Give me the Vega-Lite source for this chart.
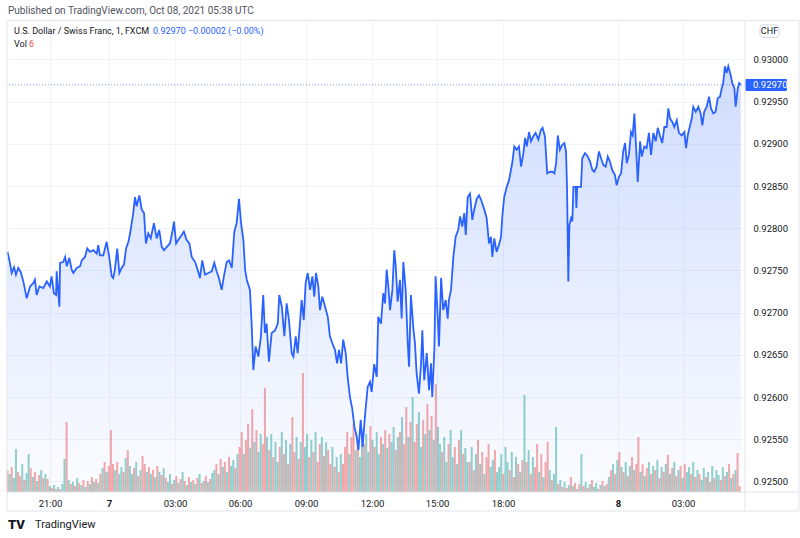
{
  "$schema": "https://vega.github.io/schema/vega-lite/v6.json",
  "width": 738,
  "height": 471,
  "autosize": {"type": "none"},
  "padding": {"left": 7, "top": 21, "right": 55, "bottom": 46},
  "background": "white",
  "config": {"view": {"stroke": null}, "font": "Roboto"},
  "datasets": {
    "price": [
      {"h": -5.0, "p": 0.92772}, {"h": -4.91, "p": 0.92762}, {"h": -4.8, "p": 0.92747}, {"h": -4.69, "p": 0.92754},
      {"h": -4.6, "p": 0.92745}, {"h": -4.49, "p": 0.92753}, {"h": -4.37, "p": 0.92748}, {"h": -4.25, "p": 0.92737},
      {"h": -4.09, "p": 0.92717}, {"h": -3.93, "p": 0.92731}, {"h": -3.78, "p": 0.92735}, {"h": -3.7, "p": 0.92739},
      {"h": -3.62, "p": 0.92721}, {"h": -3.49, "p": 0.92731}, {"h": -3.3, "p": 0.92729}, {"h": -3.14, "p": 0.92737},
      {"h": -2.99, "p": 0.92731}, {"h": -2.91, "p": 0.92743}, {"h": -2.8, "p": 0.92723}, {"h": -2.7, "p": 0.92721},
      {"h": -2.67, "p": 0.92749}, {"h": -2.54, "p": 0.92707}, {"h": -2.51, "p": 0.92759}, {"h": -2.36, "p": 0.9276},
      {"h": -2.27, "p": 0.92766}, {"h": -2.19, "p": 0.92755}, {"h": -2.07, "p": 0.92765}, {"h": -1.96, "p": 0.92751},
      {"h": -1.88, "p": 0.92747}, {"h": -1.72, "p": 0.92753}, {"h": -1.56, "p": 0.92755}, {"h": -1.48, "p": 0.92762},
      {"h": -1.33, "p": 0.92766}, {"h": -1.22, "p": 0.92776}, {"h": -1.09, "p": 0.92772}, {"h": -0.93, "p": 0.92774},
      {"h": -0.77, "p": 0.9277}, {"h": -0.7, "p": 0.9278}, {"h": -0.62, "p": 0.92768}, {"h": -0.46, "p": 0.92768},
      {"h": -0.3, "p": 0.92784}, {"h": -0.18, "p": 0.92766}, {"h": -0.06, "p": 0.92743}, {"h": 0.01, "p": 0.92741},
      {"h": 0.09, "p": 0.92751}, {"h": 0.2, "p": 0.92776}, {"h": 0.3, "p": 0.92747}, {"h": 0.41, "p": 0.92753},
      {"h": 0.52, "p": 0.92757}, {"h": 0.62, "p": 0.92776}, {"h": 0.73, "p": 0.92784}, {"h": 0.81, "p": 0.92794},
      {"h": 0.96, "p": 0.92818}, {"h": 1.04, "p": 0.92837}, {"h": 1.12, "p": 0.92826}, {"h": 1.25, "p": 0.92839},
      {"h": 1.36, "p": 0.92822}, {"h": 1.47, "p": 0.92818}, {"h": 1.56, "p": 0.92782}, {"h": 1.67, "p": 0.92794},
      {"h": 1.79, "p": 0.92788}, {"h": 1.94, "p": 0.92806}, {"h": 2.07, "p": 0.92788}, {"h": 2.19, "p": 0.92798},
      {"h": 2.31, "p": 0.92778}, {"h": 2.42, "p": 0.92774}, {"h": 2.55, "p": 0.92778}, {"h": 2.7, "p": 0.92782},
      {"h": 2.83, "p": 0.92798}, {"h": 2.89, "p": 0.92808}, {"h": 2.99, "p": 0.92782}, {"h": 3.09, "p": 0.92786},
      {"h": 3.26, "p": 0.92792}, {"h": 3.36, "p": 0.92796}, {"h": 3.49, "p": 0.92786}, {"h": 3.62, "p": 0.92782},
      {"h": 3.73, "p": 0.92766}, {"h": 3.89, "p": 0.9276}, {"h": 4.01, "p": 0.92751}, {"h": 4.12, "p": 0.92741},
      {"h": 4.23, "p": 0.92762}, {"h": 4.36, "p": 0.92745}, {"h": 4.52, "p": 0.92747}, {"h": 4.68, "p": 0.92749},
      {"h": 4.8, "p": 0.92759}, {"h": 4.91, "p": 0.92749}, {"h": 5.02, "p": 0.92741}, {"h": 5.15, "p": 0.92727},
      {"h": 5.27, "p": 0.92745}, {"h": 5.39, "p": 0.9276}, {"h": 5.5, "p": 0.92762}, {"h": 5.63, "p": 0.92753},
      {"h": 5.75, "p": 0.92796}, {"h": 5.86, "p": 0.92806}, {"h": 5.97, "p": 0.92835}, {"h": 6.07, "p": 0.92806},
      {"h": 6.18, "p": 0.92786}, {"h": 6.26, "p": 0.92751}, {"h": 6.34, "p": 0.92739}, {"h": 6.49, "p": 0.92727},
      {"h": 6.57, "p": 0.92687}, {"h": 6.65, "p": 0.92632}, {"h": 6.76, "p": 0.9266}, {"h": 6.89, "p": 0.92648},
      {"h": 7.01, "p": 0.92672}, {"h": 7.12, "p": 0.92721}, {"h": 7.2, "p": 0.92676}, {"h": 7.28, "p": 0.92687},
      {"h": 7.39, "p": 0.92642}, {"h": 7.52, "p": 0.92676}, {"h": 7.68, "p": 0.92679}, {"h": 7.81, "p": 0.92687},
      {"h": 7.88, "p": 0.92721}, {"h": 8.0, "p": 0.92707}, {"h": 8.12, "p": 0.92672}, {"h": 8.23, "p": 0.92711},
      {"h": 8.34, "p": 0.92691}, {"h": 8.47, "p": 0.92652}, {"h": 8.55, "p": 0.92648}, {"h": 8.66, "p": 0.92672},
      {"h": 8.75, "p": 0.92652}, {"h": 8.86, "p": 0.92687}, {"h": 8.94, "p": 0.92715}, {"h": 9.04, "p": 0.92691},
      {"h": 9.13, "p": 0.92735}, {"h": 9.23, "p": 0.92747}, {"h": 9.34, "p": 0.92727}, {"h": 9.45, "p": 0.92743},
      {"h": 9.54, "p": 0.92719}, {"h": 9.62, "p": 0.92747}, {"h": 9.73, "p": 0.92731}, {"h": 9.81, "p": 0.92703},
      {"h": 9.92, "p": 0.92719}, {"h": 10.05, "p": 0.92707}, {"h": 10.18, "p": 0.92695}, {"h": 10.28, "p": 0.92672},
      {"h": 10.39, "p": 0.92664}, {"h": 10.52, "p": 0.92656}, {"h": 10.62, "p": 0.9264}, {"h": 10.71, "p": 0.92656},
      {"h": 10.81, "p": 0.9264}, {"h": 10.91, "p": 0.92668}, {"h": 11.03, "p": 0.92652}, {"h": 11.12, "p": 0.92624},
      {"h": 11.23, "p": 0.926}, {"h": 11.34, "p": 0.92586}, {"h": 11.44, "p": 0.92565}, {"h": 11.55, "p": 0.92553},
      {"h": 11.63, "p": 0.92537}, {"h": 11.74, "p": 0.92573}, {"h": 11.83, "p": 0.92541}, {"h": 11.94, "p": 0.92577},
      {"h": 12.07, "p": 0.92612}, {"h": 12.18, "p": 0.92618}, {"h": 12.26, "p": 0.92606}, {"h": 12.38, "p": 0.92639},
      {"h": 12.5, "p": 0.92624}, {"h": 12.57, "p": 0.92695}, {"h": 12.7, "p": 0.92687}, {"h": 12.81, "p": 0.92723},
      {"h": 12.89, "p": 0.92711}, {"h": 12.97, "p": 0.92751}, {"h": 13.05, "p": 0.92731}, {"h": 13.13, "p": 0.92703},
      {"h": 13.24, "p": 0.92727}, {"h": 13.33, "p": 0.92774}, {"h": 13.4, "p": 0.92755}, {"h": 13.49, "p": 0.92713},
      {"h": 13.6, "p": 0.92739}, {"h": 13.68, "p": 0.92693}, {"h": 13.76, "p": 0.9276}, {"h": 13.87, "p": 0.92727},
      {"h": 13.97, "p": 0.92664}, {"h": 14.03, "p": 0.92636}, {"h": 14.12, "p": 0.92721}, {"h": 14.23, "p": 0.92683},
      {"h": 14.31, "p": 0.92664}, {"h": 14.39, "p": 0.92628}, {"h": 14.5, "p": 0.92604}, {"h": 14.6, "p": 0.9264},
      {"h": 14.66, "p": 0.92679}, {"h": 14.75, "p": 0.9262}, {"h": 14.87, "p": 0.92652}, {"h": 14.98, "p": 0.92608},
      {"h": 15.07, "p": 0.9264}, {"h": 15.13, "p": 0.926}, {"h": 15.23, "p": 0.92656}, {"h": 15.29, "p": 0.92743},
      {"h": 15.39, "p": 0.92695}, {"h": 15.45, "p": 0.9266}, {"h": 15.55, "p": 0.92741}, {"h": 15.65, "p": 0.92703},
      {"h": 15.77, "p": 0.92715}, {"h": 15.86, "p": 0.92693}, {"h": 15.92, "p": 0.92715}, {"h": 16.02, "p": 0.92727},
      {"h": 16.13, "p": 0.92766}, {"h": 16.24, "p": 0.9279}, {"h": 16.36, "p": 0.92798}, {"h": 16.45, "p": 0.92814},
      {"h": 16.55, "p": 0.92802}, {"h": 16.65, "p": 0.92818}, {"h": 16.72, "p": 0.92792}, {"h": 16.81, "p": 0.92837},
      {"h": 16.92, "p": 0.92841}, {"h": 17.03, "p": 0.9281}, {"h": 17.12, "p": 0.92822}, {"h": 17.24, "p": 0.92835},
      {"h": 17.35, "p": 0.92839}, {"h": 17.47, "p": 0.92832}, {"h": 17.6, "p": 0.92822}, {"h": 17.71, "p": 0.92812},
      {"h": 17.82, "p": 0.92782}, {"h": 17.91, "p": 0.9279}, {"h": 17.98, "p": 0.92766}, {"h": 18.07, "p": 0.92788},
      {"h": 18.18, "p": 0.92772}, {"h": 18.29, "p": 0.9278}, {"h": 18.39, "p": 0.9279}, {"h": 18.45, "p": 0.92814},
      {"h": 18.54, "p": 0.92837}, {"h": 18.66, "p": 0.92849}, {"h": 18.77, "p": 0.92857}, {"h": 18.86, "p": 0.92869},
      {"h": 18.92, "p": 0.92877}, {"h": 19.02, "p": 0.92897}, {"h": 19.13, "p": 0.92893}, {"h": 19.24, "p": 0.92897},
      {"h": 19.34, "p": 0.92873}, {"h": 19.45, "p": 0.92889}, {"h": 19.53, "p": 0.92907}, {"h": 19.61, "p": 0.92897},
      {"h": 19.72, "p": 0.92914}, {"h": 19.81, "p": 0.92903}, {"h": 19.92, "p": 0.92909}, {"h": 20.03, "p": 0.92913},
      {"h": 20.16, "p": 0.92905}, {"h": 20.27, "p": 0.92916}, {"h": 20.36, "p": 0.92919}, {"h": 20.47, "p": 0.92909},
      {"h": 20.58, "p": 0.92865}, {"h": 20.71, "p": 0.92867}, {"h": 20.82, "p": 0.92867}, {"h": 20.92, "p": 0.92865},
      {"h": 21.0, "p": 0.92877}, {"h": 21.08, "p": 0.9291}, {"h": 21.18, "p": 0.92893}, {"h": 21.29, "p": 0.92899},
      {"h": 21.39, "p": 0.92901}, {"h": 21.47, "p": 0.92891}, {"h": 21.52, "p": 0.92847}, {"h": 21.58, "p": 0.92737},
      {"h": 21.63, "p": 0.92804}, {"h": 21.71, "p": 0.92812}, {"h": 21.77, "p": 0.92808}, {"h": 21.82, "p": 0.92849},
      {"h": 21.93, "p": 0.92849}, {"h": 21.96, "p": 0.92824}, {"h": 22.0, "p": 0.92849}, {"h": 22.18, "p": 0.92849},
      {"h": 22.24, "p": 0.92883}, {"h": 22.37, "p": 0.92889}, {"h": 22.5, "p": 0.92885}, {"h": 22.61, "p": 0.92879},
      {"h": 22.72, "p": 0.92869}, {"h": 22.81, "p": 0.92867}, {"h": 22.92, "p": 0.92873}, {"h": 23.03, "p": 0.92891},
      {"h": 23.13, "p": 0.92883}, {"h": 23.24, "p": 0.92875}, {"h": 23.35, "p": 0.92873}, {"h": 23.45, "p": 0.92885},
      {"h": 23.55, "p": 0.92879}, {"h": 23.66, "p": 0.92869}, {"h": 23.79, "p": 0.92863}, {"h": 23.87, "p": 0.92851},
      {"h": 23.98, "p": 0.92861}, {"h": 24.08, "p": 0.92865}, {"h": 24.18, "p": 0.92891}, {"h": 24.27, "p": 0.92901},
      {"h": 24.35, "p": 0.92877}, {"h": 24.45, "p": 0.92887}, {"h": 24.55, "p": 0.92914}, {"h": 24.63, "p": 0.9291},
      {"h": 24.71, "p": 0.92936}, {"h": 24.77, "p": 0.92907}, {"h": 24.87, "p": 0.92855}, {"h": 24.98, "p": 0.92903},
      {"h": 25.06, "p": 0.92885}, {"h": 25.18, "p": 0.92897}, {"h": 25.29, "p": 0.92895}, {"h": 25.4, "p": 0.92913},
      {"h": 25.5, "p": 0.92887}, {"h": 25.61, "p": 0.92913}, {"h": 25.72, "p": 0.92903}, {"h": 25.82, "p": 0.92919},
      {"h": 25.92, "p": 0.9291}, {"h": 26.03, "p": 0.92901}, {"h": 26.13, "p": 0.9292}, {"h": 26.24, "p": 0.9292},
      {"h": 26.32, "p": 0.92942}, {"h": 26.4, "p": 0.9293}, {"h": 26.51, "p": 0.92926}, {"h": 26.6, "p": 0.9292},
      {"h": 26.72, "p": 0.92928}, {"h": 26.82, "p": 0.92913}, {"h": 26.95, "p": 0.9291}, {"h": 27.08, "p": 0.92914},
      {"h": 27.16, "p": 0.92895}, {"h": 27.24, "p": 0.9291}, {"h": 27.35, "p": 0.92922}, {"h": 27.43, "p": 0.9293},
      {"h": 27.5, "p": 0.92944}, {"h": 27.62, "p": 0.92938}, {"h": 27.74, "p": 0.92944}, {"h": 27.85, "p": 0.92936},
      {"h": 27.93, "p": 0.92922}, {"h": 28.02, "p": 0.92938}, {"h": 28.14, "p": 0.92944}, {"h": 28.25, "p": 0.92956},
      {"h": 28.34, "p": 0.92942}, {"h": 28.45, "p": 0.92936}, {"h": 28.56, "p": 0.92938}, {"h": 28.66, "p": 0.92954},
      {"h": 28.77, "p": 0.92956}, {"h": 28.85, "p": 0.92966}, {"h": 28.92, "p": 0.92972}, {"h": 29.0, "p": 0.92992},
      {"h": 29.08, "p": 0.92984}, {"h": 29.16, "p": 0.92992}, {"h": 29.27, "p": 0.92982}, {"h": 29.35, "p": 0.92972},
      {"h": 29.45, "p": 0.92966}, {"h": 29.51, "p": 0.92944}, {"h": 29.61, "p": 0.92966}, {"h": 29.68, "p": 0.92972},
      {"h": 29.75, "p": 0.9297}
    ],
    "vol": [
      {"h": -5.0, "v": 22, "c": "d"}, {"h": -4.9, "v": 18, "c": "u"}, {"h": -4.8, "v": 25, "c": "d"}, {"h": -4.7, "v": 14, "c": "u"},
      {"h": -4.6, "v": 43, "c": "u"}, {"h": -4.5, "v": 20, "c": "d"}, {"h": -4.4, "v": 16, "c": "d"}, {"h": -4.3, "v": 28, "c": "u"},
      {"h": -4.2, "v": 12, "c": "d"}, {"h": -4.1, "v": 19, "c": "u"}, {"h": -4.0, "v": 38, "c": "u"}, {"h": -3.9, "v": 24, "c": "d"},
      {"h": -3.8, "v": 15, "c": "u"}, {"h": -3.7, "v": 20, "c": "d"}, {"h": -3.6, "v": 11, "c": "u"}, {"h": -3.5, "v": 17, "c": "d"},
      {"h": -3.4, "v": 22, "c": "u"}, {"h": -3.3, "v": 14, "c": "d"}, {"h": -3.2, "v": 18, "c": "u"}, {"h": -3.1, "v": 13, "c": "d"},
      {"h": -3.0, "v": 6, "c": "u"}, {"h": -2.9, "v": 4, "c": "d"}, {"h": -2.8, "v": 7, "c": "u"}, {"h": -2.7, "v": 3, "c": "d"},
      {"h": -2.6, "v": 5, "c": "u"}, {"h": -2.5, "v": 3, "c": "d"}, {"h": -2.4, "v": 8, "c": "u"}, {"h": -2.3, "v": 33, "c": "u"},
      {"h": -2.2, "v": 70, "c": "d"}, {"h": -2.1, "v": 12, "c": "u"}, {"h": -2.0, "v": 8, "c": "d"}, {"h": -1.9, "v": 10, "c": "u"},
      {"h": -1.8, "v": 6, "c": "d"}, {"h": -1.7, "v": 14, "c": "u"}, {"h": -1.6, "v": 9, "c": "d"}, {"h": -1.5, "v": 7, "c": "u"},
      {"h": -1.4, "v": 12, "c": "d"}, {"h": -1.3, "v": 5, "c": "u"}, {"h": -1.2, "v": 11, "c": "d"}, {"h": -1.1, "v": 8, "c": "u"},
      {"h": -1.0, "v": 15, "c": "d"}, {"h": -0.9, "v": 10, "c": "u"}, {"h": -0.8, "v": 13, "c": "d"}, {"h": -0.7, "v": 9, "c": "u"},
      {"h": -0.6, "v": 18, "c": "d"}, {"h": -0.5, "v": 24, "c": "u"}, {"h": -0.4, "v": 30, "c": "d"}, {"h": -0.3, "v": 20, "c": "u"},
      {"h": -0.2, "v": 26, "c": "d"}, {"h": -0.1, "v": 62, "c": "d"}, {"h": 0.0, "v": 28, "c": "d"}, {"h": 0.1, "v": 22, "c": "u"},
      {"h": 0.2, "v": 30, "c": "d"}, {"h": 0.3, "v": 18, "c": "u"}, {"h": 0.4, "v": 25, "c": "u"}, {"h": 0.5, "v": 20, "c": "d"},
      {"h": 0.6, "v": 34, "c": "u"}, {"h": 0.7, "v": 42, "c": "d"}, {"h": 0.8, "v": 26, "c": "u"}, {"h": 0.9, "v": 18, "c": "u"},
      {"h": 1.0, "v": 24, "c": "d"}, {"h": 1.1, "v": 30, "c": "u"}, {"h": 1.2, "v": 16, "c": "d"}, {"h": 1.3, "v": 22, "c": "u"},
      {"h": 1.4, "v": 36, "c": "d"}, {"h": 1.5, "v": 28, "c": "d"}, {"h": 1.6, "v": 20, "c": "u"}, {"h": 1.7, "v": 25, "c": "d"},
      {"h": 1.8, "v": 18, "c": "u"}, {"h": 1.9, "v": 22, "c": "d"}, {"h": 2.0, "v": 15, "c": "u"}, {"h": 2.1, "v": 26, "c": "d"},
      {"h": 2.2, "v": 20, "c": "u"}, {"h": 2.3, "v": 17, "c": "d"}, {"h": 2.4, "v": 24, "c": "u"}, {"h": 2.5, "v": 14, "c": "d"},
      {"h": 2.6, "v": 10, "c": "u"}, {"h": 2.7, "v": 18, "c": "u"}, {"h": 2.8, "v": 8, "c": "d"}, {"h": 2.9, "v": 12, "c": "u"},
      {"h": 3.0, "v": 16, "c": "d"}, {"h": 3.1, "v": 9, "c": "u"}, {"h": 3.2, "v": 13, "c": "d"}, {"h": 3.3, "v": 20, "c": "u"},
      {"h": 3.4, "v": 11, "c": "d"}, {"h": 3.5, "v": 7, "c": "u"}, {"h": 3.6, "v": 15, "c": "d"}, {"h": 3.7, "v": 10, "c": "u"},
      {"h": 3.8, "v": 12, "c": "d"}, {"h": 3.9, "v": 8, "c": "u"}, {"h": 4.0, "v": 14, "c": "d"}, {"h": 4.1, "v": 18, "c": "u"},
      {"h": 4.2, "v": 9, "c": "d"}, {"h": 4.3, "v": 11, "c": "u"}, {"h": 4.4, "v": 16, "c": "d"}, {"h": 4.5, "v": 10, "c": "u"},
      {"h": 4.6, "v": 13, "c": "d"}, {"h": 4.7, "v": 19, "c": "u"}, {"h": 4.8, "v": 22, "c": "u"}, {"h": 4.9, "v": 28, "c": "d"},
      {"h": 5.0, "v": 18, "c": "u"}, {"h": 5.1, "v": 33, "c": "d"}, {"h": 5.2, "v": 25, "c": "u"}, {"h": 5.3, "v": 30, "c": "d"},
      {"h": 5.4, "v": 20, "c": "u"}, {"h": 5.5, "v": 35, "c": "d"}, {"h": 5.6, "v": 26, "c": "u"}, {"h": 5.7, "v": 32, "c": "u"},
      {"h": 5.8, "v": 24, "c": "d"}, {"h": 5.9, "v": 38, "c": "u"}, {"h": 6.0, "v": 45, "c": "d"}, {"h": 6.1, "v": 60, "c": "d"},
      {"h": 6.2, "v": 38, "c": "u"}, {"h": 6.3, "v": 52, "c": "d"}, {"h": 6.4, "v": 68, "c": "d"}, {"h": 6.5, "v": 44, "c": "u"},
      {"h": 6.6, "v": 83, "c": "d"}, {"h": 6.7, "v": 50, "c": "u"}, {"h": 6.8, "v": 62, "c": "d"}, {"h": 6.9, "v": 40, "c": "u"},
      {"h": 7.0, "v": 58, "c": "u"}, {"h": 7.1, "v": 48, "c": "d"}, {"h": 7.2, "v": 104, "c": "d"}, {"h": 7.3, "v": 55, "c": "u"},
      {"h": 7.4, "v": 42, "c": "d"}, {"h": 7.5, "v": 58, "c": "u"}, {"h": 7.6, "v": 35, "c": "d"}, {"h": 7.7, "v": 50, "c": "u"},
      {"h": 7.8, "v": 30, "c": "u"}, {"h": 7.9, "v": 45, "c": "d"}, {"h": 8.0, "v": 60, "c": "u"}, {"h": 8.1, "v": 38, "c": "d"},
      {"h": 8.2, "v": 52, "c": "u"}, {"h": 8.3, "v": 28, "c": "d"}, {"h": 8.4, "v": 48, "c": "u"}, {"h": 8.5, "v": 75, "c": "d"},
      {"h": 8.6, "v": 40, "c": "d"}, {"h": 8.7, "v": 55, "c": "u"}, {"h": 8.8, "v": 33, "c": "d"}, {"h": 8.9, "v": 50, "c": "u"},
      {"h": 9.0, "v": 119, "c": "d"}, {"h": 9.1, "v": 45, "c": "u"}, {"h": 9.2, "v": 58, "c": "u"}, {"h": 9.3, "v": 35, "c": "d"},
      {"h": 9.4, "v": 52, "c": "u"}, {"h": 9.5, "v": 40, "c": "d"}, {"h": 9.6, "v": 60, "c": "u"}, {"h": 9.7, "v": 30, "c": "d"},
      {"h": 9.8, "v": 48, "c": "d"}, {"h": 9.9, "v": 55, "c": "u"}, {"h": 10.0, "v": 36, "c": "d"}, {"h": 10.1, "v": 50, "c": "u"},
      {"h": 10.2, "v": 42, "c": "d"}, {"h": 10.3, "v": 28, "c": "d"}, {"h": 10.4, "v": 45, "c": "u"}, {"h": 10.5, "v": 25, "c": "d"},
      {"h": 10.6, "v": 35, "c": "u"}, {"h": 10.7, "v": 20, "c": "d"}, {"h": 10.8, "v": 38, "c": "u"}, {"h": 10.9, "v": 28, "c": "d"},
      {"h": 11.0, "v": 45, "c": "d"}, {"h": 11.1, "v": 60, "c": "d"}, {"h": 11.2, "v": 38, "c": "u"}, {"h": 11.3, "v": 55, "c": "d"},
      {"h": 11.4, "v": 68, "c": "d"}, {"h": 11.5, "v": 42, "c": "u"}, {"h": 11.6, "v": 50, "c": "d"}, {"h": 11.7, "v": 35, "c": "u"},
      {"h": 11.8, "v": 62, "c": "u"}, {"h": 11.9, "v": 48, "c": "d"}, {"h": 12.0, "v": 58, "c": "u"}, {"h": 12.1, "v": 40, "c": "u"},
      {"h": 12.2, "v": 66, "c": "d"}, {"h": 12.3, "v": 52, "c": "u"}, {"h": 12.4, "v": 45, "c": "d"}, {"h": 12.5, "v": 60, "c": "u"},
      {"h": 12.6, "v": 38, "c": "u"}, {"h": 12.7, "v": 55, "c": "d"}, {"h": 12.8, "v": 48, "c": "u"}, {"h": 12.9, "v": 62, "c": "d"},
      {"h": 13.0, "v": 44, "c": "u"}, {"h": 13.1, "v": 58, "c": "d"}, {"h": 13.2, "v": 50, "c": "u"}, {"h": 13.3, "v": 65, "c": "u"},
      {"h": 13.4, "v": 42, "c": "d"}, {"h": 13.5, "v": 55, "c": "u"}, {"h": 13.6, "v": 60, "c": "d"}, {"h": 13.7, "v": 75, "c": "u"},
      {"h": 13.8, "v": 48, "c": "d"}, {"h": 13.9, "v": 85, "c": "d"}, {"h": 14.0, "v": 55, "c": "u"}, {"h": 14.1, "v": 70, "c": "d"},
      {"h": 14.2, "v": 95, "c": "u"}, {"h": 14.3, "v": 50, "c": "d"}, {"h": 14.4, "v": 68, "c": "d"}, {"h": 14.5, "v": 80, "c": "u"},
      {"h": 14.6, "v": 45, "c": "u"}, {"h": 14.7, "v": 72, "c": "d"}, {"h": 14.8, "v": 58, "c": "u"}, {"h": 14.9, "v": 88, "c": "d"},
      {"h": 15.0, "v": 62, "c": "u"}, {"h": 15.1, "v": 76, "c": "d"}, {"h": 15.2, "v": 52, "c": "u"}, {"h": 15.3, "v": 108, "c": "d"},
      {"h": 15.4, "v": 65, "c": "u"}, {"h": 15.5, "v": 48, "c": "u"}, {"h": 15.6, "v": 40, "c": "d"}, {"h": 15.7, "v": 55, "c": "u"},
      {"h": 15.8, "v": 30, "c": "u"}, {"h": 15.9, "v": 48, "c": "d"}, {"h": 16.0, "v": 62, "c": "u"}, {"h": 16.1, "v": 35, "c": "u"},
      {"h": 16.2, "v": 45, "c": "d"}, {"h": 16.3, "v": 28, "c": "u"}, {"h": 16.4, "v": 52, "c": "d"}, {"h": 16.5, "v": 62, "c": "u"},
      {"h": 16.6, "v": 38, "c": "d"}, {"h": 16.7, "v": 44, "c": "u"}, {"h": 16.8, "v": 30, "c": "u"}, {"h": 16.9, "v": 30, "c": "d"},
      {"h": 17.0, "v": 45, "c": "u"}, {"h": 17.1, "v": 22, "c": "d"}, {"h": 17.2, "v": 38, "c": "u"}, {"h": 17.3, "v": 52, "c": "d"},
      {"h": 17.4, "v": 28, "c": "u"}, {"h": 17.5, "v": 40, "c": "d"}, {"h": 17.6, "v": 18, "c": "u"}, {"h": 17.7, "v": 35, "c": "d"},
      {"h": 17.8, "v": 48, "c": "d"}, {"h": 17.9, "v": 25, "c": "u"}, {"h": 18.0, "v": 32, "c": "u"}, {"h": 18.1, "v": 42, "c": "d"},
      {"h": 18.2, "v": 20, "c": "u"}, {"h": 18.3, "v": 25, "c": "u"}, {"h": 18.4, "v": 38, "c": "u"}, {"h": 18.5, "v": 18, "c": "d"},
      {"h": 18.6, "v": 45, "c": "u"}, {"h": 18.7, "v": 30, "c": "u"}, {"h": 18.8, "v": 22, "c": "d"}, {"h": 18.9, "v": 40, "c": "u"},
      {"h": 19.0, "v": 15, "c": "d"}, {"h": 19.1, "v": 35, "c": "u"}, {"h": 19.2, "v": 28, "c": "d"}, {"h": 19.3, "v": 20, "c": "u"},
      {"h": 19.4, "v": 32, "c": "d"}, {"h": 19.5, "v": 97, "c": "u"}, {"h": 19.6, "v": 30, "c": "d"}, {"h": 19.7, "v": 42, "c": "u"},
      {"h": 19.8, "v": 18, "c": "d"}, {"h": 19.9, "v": 35, "c": "u"}, {"h": 20.0, "v": 25, "c": "d"}, {"h": 20.1, "v": 48, "c": "d"},
      {"h": 20.2, "v": 20, "c": "u"}, {"h": 20.3, "v": 38, "c": "d"}, {"h": 20.4, "v": 15, "c": "u"}, {"h": 20.5, "v": 30, "c": "d"},
      {"h": 20.6, "v": 50, "c": "d"}, {"h": 20.7, "v": 22, "c": "u"}, {"h": 20.8, "v": 12, "c": "d"}, {"h": 20.9, "v": 18, "c": "u"},
      {"h": 21.0, "v": 65, "c": "u"}, {"h": 21.1, "v": 8, "c": "d"}, {"h": 21.2, "v": 12, "c": "u"}, {"h": 21.3, "v": 5, "c": "d"},
      {"h": 21.4, "v": 10, "c": "u"}, {"h": 21.5, "v": 4, "c": "d"}, {"h": 21.6, "v": 7, "c": "u"}, {"h": 21.7, "v": 15, "c": "d"},
      {"h": 21.8, "v": 6, "c": "u"}, {"h": 21.9, "v": 9, "c": "d"}, {"h": 22.0, "v": 3, "c": "u"}, {"h": 22.1, "v": 8, "c": "d"},
      {"h": 22.2, "v": 38, "c": "u"}, {"h": 22.3, "v": 6, "c": "d"}, {"h": 22.4, "v": 10, "c": "u"}, {"h": 22.5, "v": 4, "c": "d"},
      {"h": 22.6, "v": 8, "c": "u"}, {"h": 22.7, "v": 12, "c": "d"}, {"h": 22.8, "v": 5, "c": "u"}, {"h": 22.9, "v": 9, "c": "u"},
      {"h": 23.0, "v": 3, "c": "d"}, {"h": 23.1, "v": 7, "c": "u"}, {"h": 23.2, "v": 11, "c": "d"}, {"h": 23.3, "v": 6, "c": "u"},
      {"h": 23.4, "v": 8, "c": "d"}, {"h": 23.5, "v": 15, "c": "u"}, {"h": 23.6, "v": 22, "c": "d"}, {"h": 23.7, "v": 28, "c": "u"},
      {"h": 23.8, "v": 18, "c": "d"}, {"h": 23.9, "v": 32, "c": "u"}, {"h": 24.0, "v": 40, "c": "d"}, {"h": 24.1, "v": 25, "c": "u"},
      {"h": 24.2, "v": 20, "c": "d"}, {"h": 24.3, "v": 30, "c": "u"}, {"h": 24.4, "v": 16, "c": "d"}, {"h": 24.5, "v": 26, "c": "u"},
      {"h": 24.6, "v": 35, "c": "d"}, {"h": 24.7, "v": 22, "c": "u"}, {"h": 24.8, "v": 28, "c": "d"}, {"h": 24.9, "v": 55, "c": "d"},
      {"h": 25.0, "v": 20, "c": "u"}, {"h": 25.1, "v": 28, "c": "d"}, {"h": 25.2, "v": 16, "c": "u"}, {"h": 25.3, "v": 24, "c": "d"},
      {"h": 25.4, "v": 30, "c": "u"}, {"h": 25.5, "v": 18, "c": "d"}, {"h": 25.6, "v": 26, "c": "u"}, {"h": 25.7, "v": 22, "c": "d"},
      {"h": 25.8, "v": 32, "c": "u"}, {"h": 25.9, "v": 14, "c": "d"}, {"h": 26.0, "v": 25, "c": "u"}, {"h": 26.1, "v": 20, "c": "d"},
      {"h": 26.2, "v": 28, "c": "u"}, {"h": 26.3, "v": 37, "c": "d"}, {"h": 26.4, "v": 18, "c": "u"}, {"h": 26.5, "v": 24, "c": "d"},
      {"h": 26.6, "v": 30, "c": "u"}, {"h": 26.7, "v": 16, "c": "d"}, {"h": 26.8, "v": 22, "c": "u"}, {"h": 26.9, "v": 26, "c": "d"},
      {"h": 27.0, "v": 14, "c": "u"}, {"h": 27.1, "v": 28, "c": "d"}, {"h": 27.2, "v": 20, "c": "u"}, {"h": 27.3, "v": 25, "c": "u"},
      {"h": 27.4, "v": 18, "c": "d"}, {"h": 27.5, "v": 30, "c": "u"}, {"h": 27.6, "v": 15, "c": "d"}, {"h": 27.7, "v": 22, "c": "u"},
      {"h": 27.8, "v": 18, "c": "d"}, {"h": 27.9, "v": 12, "c": "u"}, {"h": 28.0, "v": 24, "c": "u"}, {"h": 28.1, "v": 15, "c": "d"},
      {"h": 28.2, "v": 20, "c": "u"}, {"h": 28.3, "v": 10, "c": "d"}, {"h": 28.4, "v": 26, "c": "u"}, {"h": 28.5, "v": 14, "c": "d"},
      {"h": 28.6, "v": 22, "c": "u"}, {"h": 28.7, "v": 17, "c": "u"}, {"h": 28.8, "v": 12, "c": "d"}, {"h": 28.9, "v": 25, "c": "u"},
      {"h": 29.0, "v": 16, "c": "d"}, {"h": 29.1, "v": 20, "c": "u"}, {"h": 29.2, "v": 28, "c": "d"}, {"h": 29.3, "v": 14, "c": "u"},
      {"h": 29.4, "v": 18, "c": "d"}, {"h": 29.5, "v": 22, "c": "u"}, {"h": 29.6, "v": 39, "c": "d"}, {"h": 29.7, "v": 6, "c": "d"}
    ]
  },
  "layer": [
    {
      "data": {"name": "vol"},
      "mark": {"type": "bar", "width": 2, "opacity": 0.5},
      "encoding": {
        "x": {
          "field": "h",
          "type": "quantitative",
          "scale": {"domain": [-5.024, 29.953], "nice": false, "zero": false, "padding": 0},
          "axis": {
            "values": [-2.986, -0.19, 2.938, 6.019, 9.147, 12.275, 15.355, 18.483, 23.934, 27.014],
            "labelExpr": "datum.value < -1 ? '21:00' : datum.value < 1 ? '7' : datum.value < 4 ? '03:00' : datum.value < 7 ? '06:00' : datum.value < 10 ? '09:00' : datum.value < 13 ? '12:00' : datum.value < 16 ? '15:00' : datum.value < 20 ? '18:00' : datum.value < 25 ? '8' : '03:00'",
            "title": null,
            "grid": true,
            "gridColor": "#f0f3fa",
            "domain": false,
            "ticks": false,
            "tickSize": 0,
            "labelPadding": 6,
            "labelFontSize": 9.5,
            "labelColor": "#131722",
            "labelFlush": false,
            "labelFontWeight": {"condition": {"test": "(datum.value > -1 && datum.value < 1) || (datum.value > 20 && datum.value < 25)", "value": "bold"}, "value": "normal"}
          }
        },
        "y": {"field": "v", "type": "quantitative", "scale": {"domain": [0, 471]}, "axis": null},
        "color": {
          "field": "c",
          "type": "nominal",
          "scale": {"domain": ["u", "d"], "range": ["#26a69a", "#ef5350"]},
          "legend": null
        }
      }
    },
    {
      "layer": [
        {
          "data": {"name": "price"},
          "mark": {
            "type": "area",
            "color": {
              "gradient": "linear",
              "x1": 0, "y1": 0, "x2": 0, "y2": 1,
              "stops": [
                {"offset": 0, "color": "rgba(41,98,255,0.22)"},
                {"offset": 1, "color": "rgba(41,98,255,0.02)"}
              ]
            }
          },
          "encoding": {
            "x": {"field": "h", "type": "quantitative", "scale": {"domain": [-5.024, 29.953], "nice": false, "zero": false, "padding": 0}},
            "y": {
              "field": "p",
              "type": "quantitative",
              "scale": {"domain": [0.924875, 0.930456], "nice": false, "zero": false},
              "axis": {
                "orient": "right",
                "values": [0.925, 0.9255, 0.926, 0.9265, 0.927, 0.9275, 0.928, 0.9285, 0.929, 0.9295, 0.93],
                "format": ".5f",
                "title": null,
                "grid": true,
                "gridColor": "#f0f3fa",
                "domain": false,
                "ticks": false,
                "tickSize": 0,
                "labelPadding": 8,
                "labelFontSize": 9.5,
                "labelColor": "#131722"
              }
            },
            "y2": {"datum": 0.924875}
          }
        },
        {
          "data": {"name": "price"},
          "mark": {"type": "line", "color": "#2962ff", "strokeWidth": 1.8},
          "encoding": {
            "x": {"field": "h", "type": "quantitative"},
            "y": {"field": "p", "type": "quantitative"}
          }
        },
        {
          "data": {"values": [{}]},
          "mark": {"type": "rule", "color": "#2962ff", "strokeDash": [1, 2], "opacity": 0.6, "strokeWidth": 1},
          "encoding": {"y": {"datum": 0.9297, "type": "quantitative"}}
        },
        {
          "data": {"values": [{}]},
          "mark": {"type": "rect", "fill": null, "fillOpacity": 0, "stroke": "#e0e3eb", "strokeWidth": 1},
          "encoding": {
            "x": {"datum": -5.024, "type": "quantitative"},
            "x2": {"datum": 32.51},
            "y": {"datum": 0.930462, "type": "quantitative"},
            "y2": {"datum": 0.92465}
          }
        },
        {
          "data": {"values": [{}]},
          "mark": {"type": "rule", "color": "#e0e3eb", "strokeWidth": 1},
          "encoding": {
            "x": {"datum": -5.024, "type": "quantitative"},
            "x2": {"datum": 32.51},
            "y": {"datum": 0.924875, "type": "quantitative"}
          }
        },
        {
          "data": {"values": [{}]},
          "mark": {"type": "rule", "color": "#e0e3eb", "strokeWidth": 1},
          "encoding": {
            "x": {"datum": 29.953, "type": "quantitative"},
            "y": {"datum": 0.930462, "type": "quantitative"},
            "y2": {"datum": 0.92465}
          }
        },
        {
          "data": {"values": [{}]},
          "mark": {"type": "rect", "fill": "#2962ff", "cornerRadius": 1},
          "encoding": {
            "x": {"datum": 29.98, "type": "quantitative"},
            "x2": {"datum": 31.94},
            "y": {"datum": 0.929769, "type": "quantitative"},
            "y2": {"datum": 0.929627}
          }
        },
        {
          "data": {"values": [{}]},
          "mark": {"type": "text", "text": "0.92970", "color": "white", "fontSize": 9.5, "align": "left", "baseline": "middle"},
          "encoding": {
            "x": {"datum": 30.332, "type": "quantitative"},
            "y": {"datum": 0.9297, "type": "quantitative"}
          }
        },
        {
          "data": {"values": [{}]},
          "mark": {"type": "rect", "fill": "white", "stroke": "#d1d4dc", "strokeWidth": 1, "cornerRadius": 3},
          "encoding": {
            "x": {"datum": 30.664, "type": "quantitative"},
            "x2": {"datum": 31.564},
            "y": {"datum": 0.930409, "type": "quantitative"},
            "y2": {"datum": 0.930263}
          }
        },
        {
          "data": {"values": [{}]},
          "mark": {"type": "text", "text": "CHF", "color": "#131722", "fontSize": 9, "align": "center", "baseline": "middle"},
          "encoding": {
            "x": {"datum": 31.114, "type": "quantitative"},
            "y": {"datum": 0.930338, "type": "quantitative"}
          }
        },
        {
          "data": {"values": [{}]},
          "mark": {"type": "text", "text": "Published on TradingView.com, Oct 08, 2021 05:38 UTC", "color": "#50535e", "fontSize": 10, "align": "left", "baseline": "middle"},
          "encoding": {
            "x": {"datum": -4.976, "type": "quantitative"},
            "y": {"datum": 0.930575, "type": "quantitative"}
          }
        },
        {
          "data": {"values": [{}]},
          "mark": {"type": "text", "text": "U.S. Dollar / Swiss Franc, 1, FXCM", "color": "#131722", "fontSize": 9, "align": "left", "baseline": "middle"},
          "encoding": {
            "x": {"datum": -4.692, "type": "quantitative"},
            "y": {"datum": 0.930338, "type": "quantitative"}
          }
        },
        {
          "data": {"values": [{}]},
          "mark": {"type": "text", "text": "0.92970  −0.00002 (−0.00%)", "color": "#2962ff", "fontSize": 9, "align": "left", "baseline": "middle"},
          "encoding": {
            "x": {"datum": 1.896, "type": "quantitative"},
            "y": {"datum": 0.930338, "type": "quantitative"}
          }
        },
        {
          "data": {"values": [{}]},
          "mark": {"type": "text", "text": "Vol", "color": "#131722", "fontSize": 9, "align": "left", "baseline": "middle"},
          "encoding": {
            "x": {"datum": -4.692, "type": "quantitative"},
            "y": {"datum": 0.930184, "type": "quantitative"}
          }
        },
        {
          "data": {"values": [{}]},
          "mark": {"type": "text", "text": "6", "color": "#ef5350", "fontSize": 9, "align": "left", "baseline": "middle"},
          "encoding": {
            "x": {"datum": -3.981, "type": "quantitative"},
            "y": {"datum": 0.930184, "type": "quantitative"}
          }
        },
        {
          "data": {"values": [{}]},
          "mark": {"type": "text", "text": "TV", "color": "#131722", "fontSize": 13, "fontWeight": 900, "align": "left", "baseline": "middle"},
          "encoding": {
            "x": {"datum": -4.976, "type": "quantitative"},
            "y": {"datum": 0.924484, "type": "quantitative"}
          }
        },
        {
          "data": {"values": [{}]},
          "mark": {"type": "text", "text": "TradingView", "color": "#131722", "fontSize": 11, "align": "left", "baseline": "middle"},
          "encoding": {
            "x": {"datum": -3.697, "type": "quantitative"},
            "y": {"datum": 0.924484, "type": "quantitative"}
          }
        }
      ]
    }
  ],
  "resolve": {"scale": {"y": "independent"}}
}
